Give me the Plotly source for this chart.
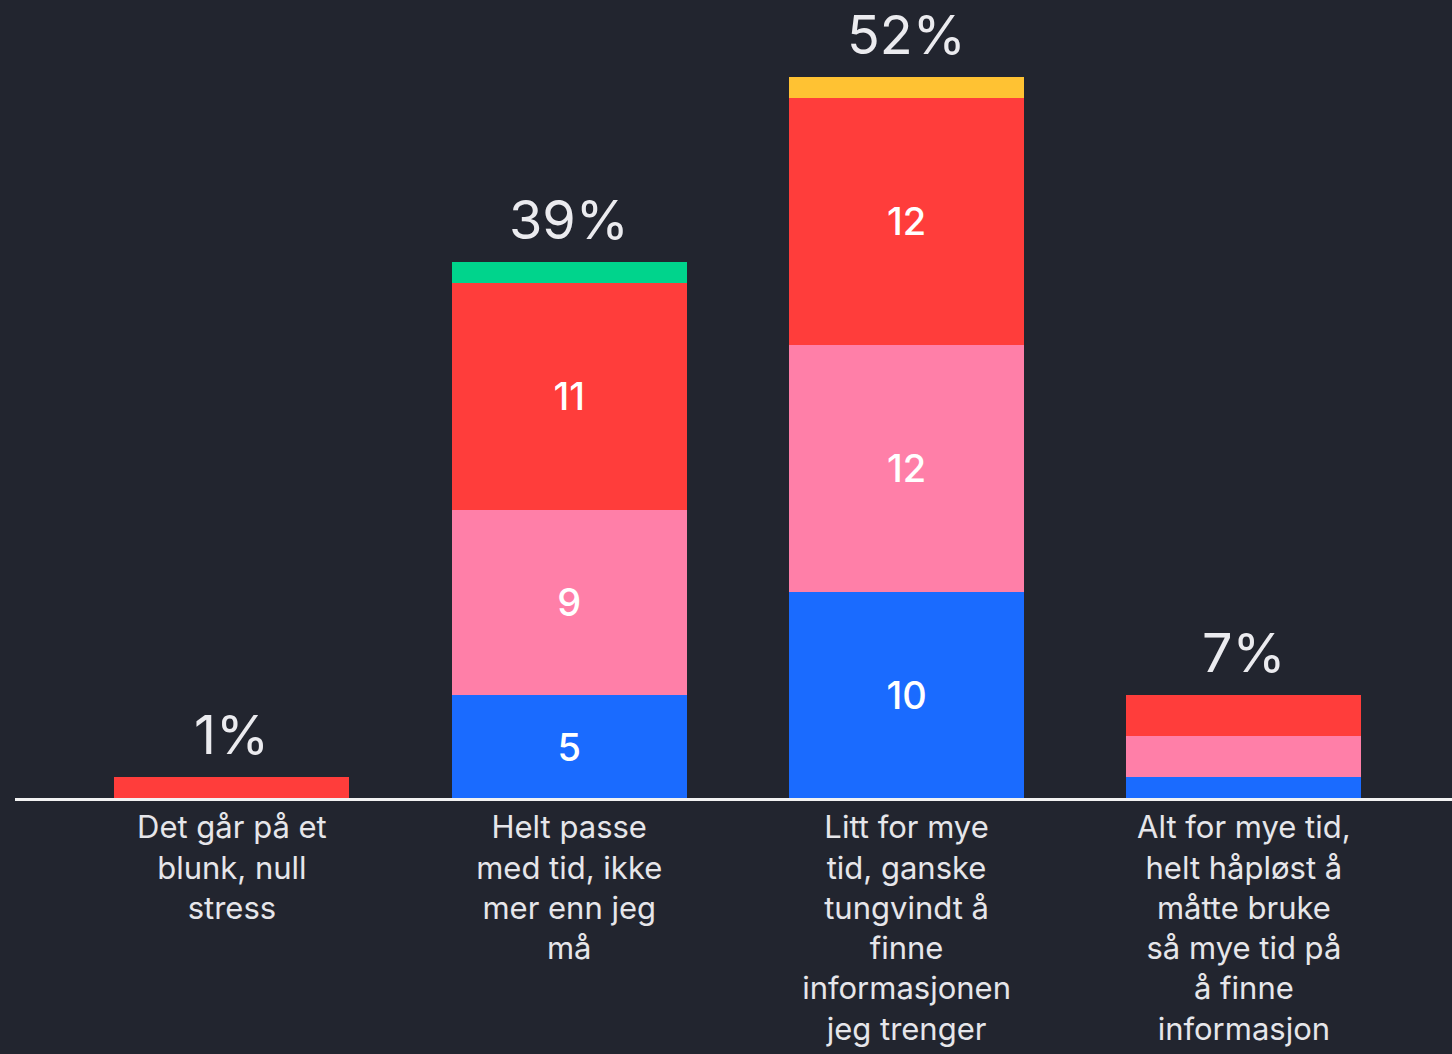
import plotly.graph_objects as go

categories = [
    "Det går på et<br>blunk, null<br>stress",
    "Helt passe<br>med tid, ikke<br>mer enn jeg<br>må",
    "Litt for mye<br>tid, ganske<br>tungvindt å<br>finne<br>informasjonen<br>jeg trenger",
    "Alt for mye tid,<br>helt håpløst å<br>måtte bruke<br>så mye tid på<br>å finne<br>informasjon",
]
blue = [0, 5, 10, 1]
pink = [0, 9, 12, 2]
red = [1, 11, 12, 2]
green = [0, 1, 0, 0]
yellow = [0, 0, 1, 0]
totals_text = ["1%", "39%", "52%", "7%"]
show_labels = [False, True, True, False]

series = [
    ("blue", blue, "#1a6bff"),
    ("pink", pink, "#ff7fa8"),
    ("red", red, "#ff3d3b"),
    ("green", green, "#00d48c"),
    ("yellow", yellow, "#ffc233"),
]

fig = go.Figure()
for name, vals, color in series:
    texts = [str(v) if (show_labels[i] and v >= 3) else "" for i, v in enumerate(vals)]
    fig.add_trace(go.Bar(
        x=categories, y=vals, name=name,
        marker=dict(color=color, line=dict(width=0)),
        text=texts, textposition="inside", insidetextanchor="middle",
        textfont=dict(family="Inter", size=38, color="white", weight=500),
        hoverinfo="skip",
    ))

stack_tot = [b + p + r + g + y for b, p, r, g, y in zip(blue, pink, red, green, yellow)]
for i, c in enumerate(categories):
    fig.add_annotation(
        x=c, y=stack_tot[i], text=totals_text[i], showarrow=False,
        yanchor="bottom", yshift=8,
        font=dict(family="Inter", size=54, color="#ebebef"),
    )

fig.update_layout(
    width=1452, height=1054,
    barmode="stack", bargap=0.303,
    plot_bgcolor="#22252f", paper_bgcolor="#22252f",
    margin=dict(l=15, r=0, t=0, b=256),
    showlegend=False,
    uniformtext=dict(mode="show", minsize=10),
    xaxis=dict(
        range=[-0.643, 3.617], showline=True, linecolor="#f2f2f2", linewidth=3,
        ticks="", showgrid=False, zeroline=False,
        tickfont=dict(family="Inter", size=31, color="#e6e6ea"),
    ),
    yaxis=dict(range=[0, 38.74], visible=False, showgrid=False, zeroline=False),
)

fig.write_html("out.html")
